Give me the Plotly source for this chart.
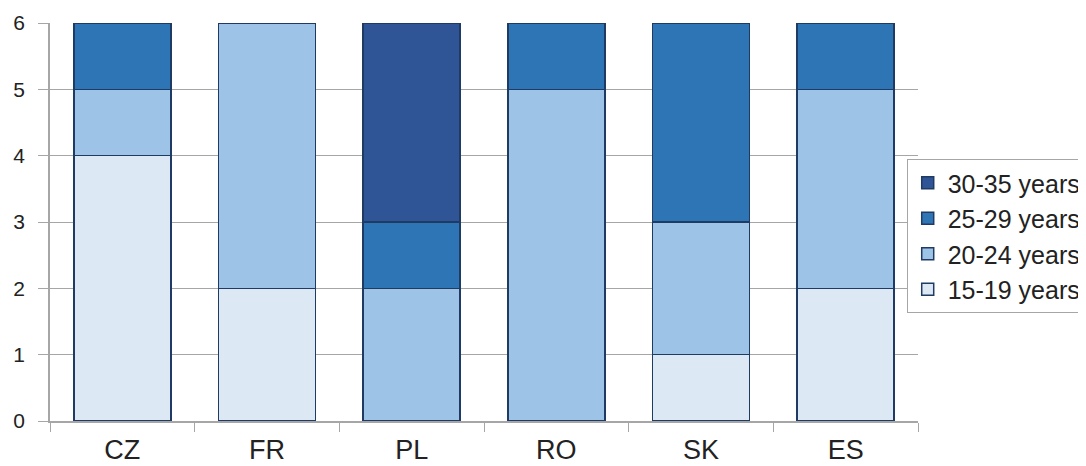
import plotly.graph_objects as go

countries = ["CZ", "FR", "PL", "RO", "SK", "ES"]
age_groups = ["15-19 years", "20-24 years", "25-29 years", "30-35 years"]
v_15_19 = [4, 2, 0, 0, 1, 2]
v_20_24 = [1, 4, 2, 5, 2, 3]
v_25_29 = [1, 0, 1, 1, 3, 1]
v_30_35 = [0, 0, 3, 0, 0, 0]
series = [v_15_19, v_20_24, v_25_29, v_30_35]
colors = ["#DDE8F5", "#9DC3E6", "#2E75B6", "#2F5597"]

fig = go.Figure()
for name, vals, col in zip(age_groups, series, colors):
    fig.add_trace(go.Bar(
        x=countries, y=vals, name=name,
        marker=dict(color=col, line=dict(color="#1F3B63", width=1.5)),
    ))

# page body has an 8px default margin; margins compensate for that offset
fig.update_layout(
    width=1086, height=466,
    barmode="stack", bargap=0.33,
    paper_bgcolor="white", plot_bgcolor="white",
    margin=dict(l=42, r=176, t=15, b=53, autoexpand=False),
    font=dict(family="Liberation Sans, Arial, sans-serif", color="#222222"),
    showlegend=True,
    legend=dict(
        traceorder="reversed",
        x=0.987, xanchor="left", y=0.658, yanchor="top",
        bordercolor="#A6A6A6", borderwidth=1, bgcolor="white",
        font=dict(size=25, color="#222222"),
        itemwidth=30,
    ),
    xaxis=dict(
        automargin=False,
        showline=True, linecolor="#A6A6A6", linewidth=1.5,
        ticks="outside", ticklen=9, tickcolor="#A6A6A6",
        tickson="boundaries",
        tickfont=dict(size=27, color="#222222"),
        ticklabelstandoff=4,
        showgrid=False,
    ),
    yaxis=dict(
        automargin=False,
        range=[0, 6], dtick=1,
        showline=True, linecolor="#A6A6A6", linewidth=1.5,
        ticks="outside", ticklen=10, tickcolor="#A6A6A6",
        showgrid=True, gridcolor="#A6A6A6", gridwidth=1,
        tickfont=dict(size=21, color="#222222"),
        ticklabelstandoff=9,
        zeroline=False,
    ),
)

fig.write_html("out.html")
